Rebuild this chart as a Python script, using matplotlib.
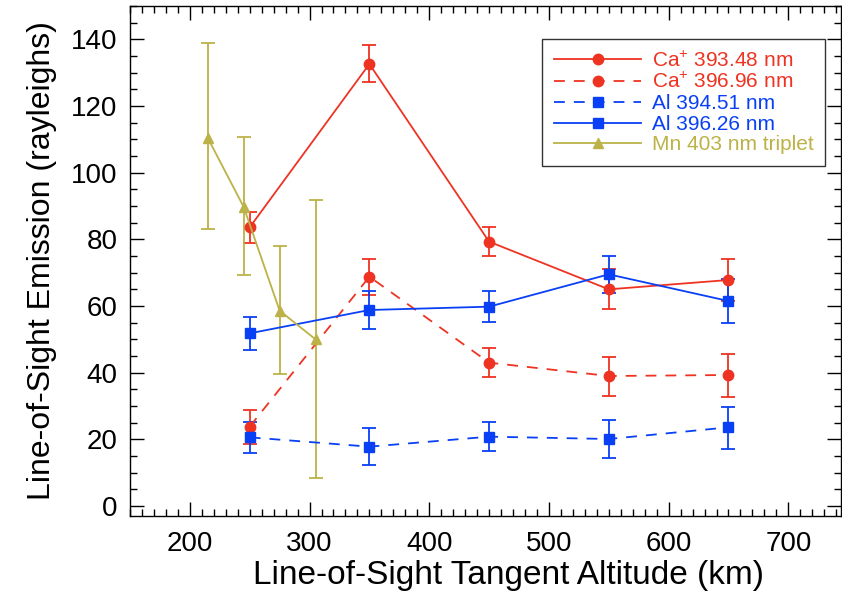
import matplotlib
matplotlib.use("Agg")
import matplotlib.pyplot as plt
from matplotlib.ticker import MultipleLocator

plt.rcParams["font.family"] = ["Liberation Sans", "DejaVu Sans"]
plt.rcParams["mathtext.default"] = "regular"

# altitudes (km)
alt = [250, 350, 450, 550, 650]
alt_mn = [215, 245, 275, 305]

# emission (rayleighs) with lower / upper error bars
ca393 = [83.6, 132.6, 79.3, 65.0, 67.8]
ca393_lo = [4.8, 5.5, 4.3, 6.0, 6.3]
ca393_hi = [4.7, 5.7, 4.5, 6.0, 6.3]

ca396 = [23.8, 68.8, 43.0, 39.0, 39.3]
ca396_lo = [5.2, 5.5, 4.2, 5.9, 6.5]
ca396_hi = [5.0, 5.2, 4.5, 5.6, 6.3]

al394 = [20.6, 17.8, 20.8, 20.1, 23.6]
al394_lo = [4.8, 5.5, 4.2, 5.6, 6.4]
al394_hi = [4.7, 5.5, 4.5, 5.7, 6.2]

al396 = [51.8, 58.8, 59.8, 69.5, 61.5]
al396_lo = [5.0, 5.6, 4.5, 5.7, 6.7]
al396_hi = [5.0, 5.8, 4.7, 5.6, 6.7]

mn403 = [110.4, 89.7, 58.6, 50.0]
mn403_lo = [27.4, 20.4, 19.0, 41.5]
mn403_hi = [28.5, 21.1, 19.4, 41.8]

RED = "#EE3322"
BLUE = "#0A40F5"
OLIVE = "#BCB247"

fig = plt.figure(figsize=(8.42, 6.02), dpi=100)
ax = fig.add_axes([130 / 842, 1 - 516 / 602, 711 / 842, 510 / 602])

series = [
    (alt, ca393, ca393_lo, ca393_hi, RED, "-", "o", r"Ca$^{+}$ 393.48 nm"),
    (alt, ca396, ca396_lo, ca396_hi, RED, (0, (6, 5)), "o", r"Ca$^{+}$ 396.96 nm"),
    (alt, al394, al394_lo, al394_hi, BLUE, (0, (6, 5)), "s", "Al 394.51 nm"),
    (alt, al396, al396_lo, al396_hi, BLUE, "-", "s", "Al 396.26 nm"),
    (alt_mn, mn403, mn403_lo, mn403_hi, OLIVE, "-", "^", "Mn 403 nm triplet"),
]

for x, y, lo, hi, col, ls, mk, lab in series:
    ax.errorbar(x, y, yerr=[lo, hi], color=col, ls=ls, lw=1.3,
                marker=mk, ms=7.5, mec=col, mfc=col,
                ecolor=col, elinewidth=1.3, capsize=5, capthick=1.3,
                label=lab)

ax.set_xlim(150, 744)
ax.set_ylim(-3, 150)
ax.xaxis.set_major_locator(MultipleLocator(100))
ax.xaxis.set_minor_locator(MultipleLocator(10))
ax.yaxis.set_major_locator(MultipleLocator(20))
ax.yaxis.set_minor_locator(MultipleLocator(5))
ax.tick_params(which="both", direction="in", top=True, right=True, width=1)
ax.tick_params(which="major", length=10, labelsize=20)
ax.tick_params(axis="x", which="major", pad=11)
ax.tick_params(axis="y", which="major", pad=9)
ax.tick_params(which="minor", length=5)
for s in ax.spines.values():
    s.set_linewidth(1)

ax.set_xlabel("Line-of-Sight Tangent Altitude (km)", fontsize=24)
ax.xaxis.set_label_coords(0.533, -0.086)
ax.set_ylabel("Line-of-Sight Emission (rayleighs)", fontsize=23, labelpad=10)

handles, labels = ax.get_legend_handles_labels()
handles = [h[0] for h in handles]
leg = ax.legend(handles, labels, loc="upper right", bbox_to_anchor=(0.9775, 0.935),
                borderaxespad=0, fontsize=15, labelcolor="linecolor",
                frameon=True, fancybox=False, edgecolor="black",
                handlelength=4.2, handletextpad=0.5,
                labelspacing=0.08, borderpad=0.55)
leg.get_frame().set_linewidth(1)

fig.savefig("out.png", dpi=100)
